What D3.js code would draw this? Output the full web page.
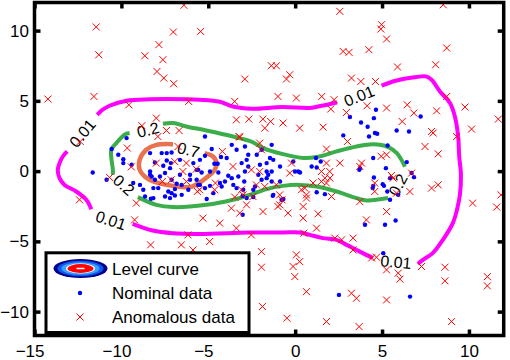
<!DOCTYPE html>
<html>
<head>
<meta charset="utf-8">
<script src="https://cdn.jsdelivr.net/npm/d3@7"></script>
<style>
body { margin: 0; background: #fff; }
svg { display: block; font-family: "Liberation Sans", Arial, sans-serif; }
</style>
</head>
<body>
<script>
//Nominal data (blue dots)
const nominalX = [-10.56,-10.18,-9.89,-9.89,-9.41,-11.65,-10.85,-9.32,-8.74,-8.64,-8.16,-8.16,-7.11,-8.35,-7.68,-7.39,-7.11,-8.07,-7.39,-7.15,
    -7.59,-7.20,-8.35,-8.26,-7.49,-7.78,-7.11,-6.63,-6.63,-6.05,-5.67,-5.86,-5.58,-6.82,-6.53,-6.92,-6.15,-7.20,-5.19,-4.80,
    -5.19,-5.48,-4.65,-4.46,-4.27,-3.94,-3.65,-3.37,-5.67,-5.38,-4.90,-4.42,-3.85,-3.65,-4.04,-3.27,-3.08,-2.79,-2.70,-2.89,
    -2.93,-2.03,-1.64,-1.45,-1.26,-1.35,-1.93,-0.87,-1.64,-1.93,-1.35,-3.56,-3.37,-4.23,-5.58,-4.90,-2.31,-2.41,-0.87,-0.11,
    -0.01,0.18,-3.02,-2.41,-0.68,-5.09,-9.70,-2.89,-2.21,-2.70,4.65,3.15,4.53,3.79,4.17,5.84,6.55,4.59,4.72,4.25,
    2.77,7.22,5.32,0.95,1.47,0.28,-2.12,-1.35,3.73,4.49,5.22,4.53,6.42,6.84,1.20,1.24,3.69,5.46,5.04,4.46,
    5.30,5.46,1.24,1.71,5.93,-1.55,-1.64,-1.26,-0.78,4.49,5.11,6.70,4.02,5.17,5.78,5.07,2.52,6.61,-8.30,-6.92,
    -3.02,-1.29,-8.35,-8.07,-8.93,-7.88,-7.30,-6.53,-7.49,-5.48,-6.05,-5.19,-4.71,-4.33,-2.99,-2.79];
const nominalY = [1.57,1.16,0.85,0.57,0.45,-0.10,-0.62,-0.85,-1.33,-1.81,-1.92,-1.21,-1.57,1.28,1.28,1.28,1.32,0.61,0.75,0.57,
    0.38,0.21,-0.03,-0.38,-0.14,-0.38,-0.62,0.80,-0.26,-0.26,-0.62,0.57,0.09,-0.90,-0.98,-1.28,-1.33,-1.92,2.46,1.57,
    1.09,0.80,0.52,0.52,1.00,0.93,1.87,1.52,0.09,-0.10,-0.03,-0.10,-0.33,-0.50,-0.74,-0.38,0.57,0.80,0.33,-0.03,
    -0.74,0.45,0.57,0.93,0.80,1.87,1.52,0.33,-0.03,-0.62,-0.74,-0.98,-1.21,-1.10,-0.98,-1.05,-1.10,-1.33,-0.74,0.68,
    -0.03,-0.03,-1.76,-1.85,-1.99,-1.99,2.35,1.75,1.16,1.16,4.37,3.85,3.77,3.46,3.16,2.89,2.82,2.71,2.66,2.46,
    2.54,3.89,1.82,0.33,0.68,-0.10,-0.26,-0.03,0.21,0.93,0.21,-0.46,0.64,-0.43,0.93,0.26,0.09,-0.50,-0.93,-1.21,
    -1.45,-2.04,-1.50,-1.64,-1.69,-0.26,-0.50,-1.69,-2.04,-1.05,-1.05,-0.14,-3.82,-3.82,-3.52,-5.84,-8.81,-8.93,-1.97,-1.74,
    -3.11,-1.76,-0.26,-0.62,-0.98,-1.21,-1.45,-1.69,-1.81,-0.98,-0.62,-1.21,-1.57,-0.85,-1.33,-1.92];

//Anomalous data (red crosses)
const anomalousX = [-14.23,-11.45,-11.30,-11.58,-9.57,-8.65,-7.84,-7.61,-7.95,-7.56,-6.99,-7.01,-5.44,-6.40,-6.13,-2.90,-3.48,-3.38,-2.67,-3.23,
    -8.82,-7.99,-7.90,-7.41,-9.66,-9.43,-12.37,-10.68,-6.68,-6.74,-7.99,-6.93,-6.26,-6.46,-7.64,-7.13,-5.69,-5.50,-6.26,-1.86,
    -1.41,-1.75,-0.70,0.26,-3.19,-2.04,-1.94,-4.19,-3.58,-2.52,-2.04,-0.21,-0.31,-4.59,-4.63,-5.63,-3.09,-3.00,-2.43,-1.75,
    -1.08,-0.89,0.36,-3.48,2.57,4.97,4.93,5.26,4.24,2.76,3.10,8.52,8.72,8.08,5.89,-1.37,-1.08,-0.31,-0.50,3.24,
    3.78,4.62,-0.99,0.07,1.53,2.24,2.05,2.95,4.14,5.26,6.45,6.83,8.14,8.72,9.77,11.69,10.15,7.85,7.94,6.16,
    9.29,7.47,8.23,1.61,3.01,1.80,5.26,4.95,1.80,2.57,1.51,1.99,3.82,3.72,5.54,6.70,1.71,2.00,1.51,1.80,
    1.03,0.55,0.65,0.65,2.09,3.72,4.58,4.58,5.83,5.64,-2.23,-0.99,-1.85,-0.41,0.46,0.46,1.32,4.10,5.26,6.60,
    7.85,8.23,11.85,10.21,11.60,1.23,2.28,2.67,3.33,3.33,4.68,-1.94,0.07,0.26,-1.94,-0.12,-0.02,0.65,3.24,3.53,
    5.26,5.93,6.03,5.26,8.62,8.62,11.06,11.06,7.27,-1.88,-0.47,1.80,3.68,9.00,-2.52,-12.41,-9.14,-9.24,-5.31,-4.34,
    -3.38,-6.17,-4.92,-6.55,-5.88,-8.32,-3.67,-3.19,-2.80,-0.89,-0.76,0.50,4.40];
const anomalousY = [5.13,10.26,8.28,5.31,4.72,8.21,9.00,7.93,7.09,6.62,6.22,9.90,9.94,11.80,4.96,6.55,4.96,3.65,3.70,2.46,
    3.23,3.77,2.46,2.89,1.64,0.30,2.11,-0.45,2.89,1.75,0.57,0.68,0.57,-0.03,-0.74,-0.62,0.14,-1.33,-0.74,3.70,
    3.53,3.06,3.42,3.06,2.42,1.99,1.52,1.40,0.33,0.09,-0.03,0.57,-0.14,-0.85,-1.33,-1.45,-1.33,-1.69,-1.81,-1.10,
    -0.98,-1.69,-1.33,-1.85,11.37,10.42,10.11,9.40,8.64,8.52,8.45,11.84,8.76,7.57,7.41,7.50,7.50,6.86,6.55,6.62,
    6.38,6.38,5.31,5.20,5.31,5.08,4.42,4.17,4.65,4.49,4.72,4.13,4.29,5.31,4.56,3.70,2.99,2.82,2.71,3.53,
    2.46,1.75,1.23,3.13,2.11,1.57,1.16,1.05,0.57,0.57,-0.03,-0.03,0.57,0.33,-0.31,-0.14,-0.50,-0.50,-0.74,-0.85,
    -0.85,-1.21,-1.69,-1.92,-1.81,-2.17,-0.85,-1.45,-1.57,-0.50,-0.98,-2.52,-2.88,-2.99,-2.52,-3.35,-3.04,-3.47,-2.88,-1.45,
    -1.21,-0.98,-1.69,-2.28,-2.56,-4.06,-4.77,-4.89,-4.77,-5.61,-6.13,-5.73,-5.96,-6.44,-6.84,-6.79,-7.51,-8.58,-8.69,-9.05,
    -7.03,-7.26,-7.69,-9.17,-6.84,-7.81,-7.51,-8.17,-6.79,-9.64,-10.47,-10.71,-11.07,-10.71,-4.54,-2.04,-2.28,-3.47,-3.35,-3.70,
    -4.06,-4.54,-5.01,-5.25,-5.61,-5.25,-2.64,-2.99,-2.40,-2.40,-2.04,-4.42,-6.18];

//Level curve 0.01 (pieces between labels)
const level001 = [
    [[-11.39,4.01],[-11.08,4.37],[-10.68,4.65],[-9.70,5.01],[-8.38,5.11],[-7.40,5.13],[-5.50,5.08],[-4.34,4.94],[-3.59,4.60],[-2.50,4.44],[-0.71,4.56],[0.84,4.49],[1.53,4.65],[2.41,4.89]],
    [[4.97,6.08],[5.84,6.45],[6.99,6.70],[7.52,6.74],[7.85,6.50],[8.33,5.67],[8.91,4.84],[9.19,3.89],[9.38,2.46],[9.44,1.04],[9.54,-0.26],[9.48,-1.69],[9.31,-2.76],[9.08,-3.68],[8.50,-4.89],[7.93,-5.82],[7.35,-6.32],[7.06,-6.62]],
    [[4.47,-6.18],[3.72,-5.73],[2.96,-5.25],[2.38,-4.89],[1.59,-4.77],[0.84,-4.54],[0.26,-4.37],[-0.71,-4.37],[-2.61,-4.37],[-5.50,-4.47],[-7.05,-4.42],[-8.20,-4.23],[-9.35,-3.75]],
    [[-11.73,-2.71],[-12.02,-2.04],[-12.60,-1.45],[-13.27,-0.98],[-13.56,-0.50],[-13.66,0.09],[-13.56,0.57],[-13.37,1.04],[-13.12,1.40]]
];

//Level curve 0.2
const level02 = [
    [[-7.61,3.37],[-7.03,3.42],[-6.26,3.18],[-5.11,2.89],[-3.58,2.46],[-2.50,2.09],[-1.85,1.64],[-0.70,1.21],[0.46,0.93],[1.23,1.00],[2.38,1.40],[3.53,1.75],[4.49,1.91],[5.33,1.73],[5.85,1.28],[6.22,0.57],[6.31,0.31]],
    [[5.35,-1.92],[4.11,-2.09],[3.53,-1.92],[2.38,-1.45],[1.23,-1.10],[0.26,-0.98],[-0.70,-1.05],[-1.65,-1.28],[-2.61,-1.69],[-3.58,-2.04],[-5.11,-2.40],[-7.03,-2.56],[-7.99,-2.40],[-9.05,-1.85]],
    [[-10.49,-0.26],[-10.49,0.09],[-10.58,1.52],[-10.29,1.99],[-9.82,2.59],[-9.53,2.71]]
];

//Level curve 0.7
const level07 = [
    [[-7.03,1.92],[-7.99,1.87],[-8.57,1.52],[-8.95,0.80],[-8.95,0.09],[-8.66,-0.38],[-7.99,-0.81],[-7.03,-1.05],[-6.07,-1.14],[-5.67,-0.94],[-5.02,-0.38],[-4.63,0.09],[-4.53,0.57],[-4.73,1.04],[-5.21,1.28]]
];

//Contour labels
const labelText = ['0.01', '0.01', '0.01', '0.01', '0.2', '0.2', '0.2', '0.7'];
const labelX = [-12.25, 3.68, -10.6, 5.80, -8.47, -9.85, 5.91, -6.14];
const labelY = [2.70, 5.36, -3.5, -6.46, 2.94, -0.98, -0.98, 1.52];
const labelAngle = [-50, -22, 18, 5, -14, 42, -62, 14];

//Ticks
const xTicks = [-15, -10, -5, 0, 5, 10];
const yTicks = [-10, -5, 0, 5, 10];

const width = 510;
const height = 360;

const svg = d3.select("body").append("svg")
    .attr("width", width)
    .attr("height", height);

//Scales
let x = d3.scaleLinear().domain([-15, 12]).range([34.5, 503.7]);
let y = d3.scaleLinear().domain([-11.7, 12]).range([335.5, 2.5]);

svg.append('clipPath').attr('id', 'plotClip')
    .append('rect')
    .attr('x', x(-15)).attr('y', y(12))
    .attr('width', x(12) - x(-15)).attr('height', y(-11.7) - y(12));

const plot = svg.append('g').attr('clip-path', 'url(#plotClip)');

//Contours
const line = d3.line()
    .x(d => x(d[0]))
    .y(d => y(d[1]))
    .curve(d3.curveCatmullRom.alpha(0.5));

const drawLevel = function(pieces, colour, w) {
    plot.selectAll(null)
        .data(pieces)
        .enter()
        .append('path')
        .attr('d', line)
        .attr('fill', 'none')
        .attr('stroke', colour)
        .attr('stroke-width', w);
};
drawLevel(level001, '#ff00ff', 4);
drawLevel(level02, '#3bae4b', 4);
drawLevel(level07, '#e8714f', 4.5);

plot.selectAll('text.clabel')
    .data(labelText)
    .enter()
    .append('text')
    .attr('class', 'clabel')
    .attr('transform', (d, i) => `translate(${x(labelX[i])},${y(labelY[i])}) rotate(${labelAngle[i]})`)
    .attr('text-anchor', 'middle')
    .attr('dy', '0.36em')
    .style('font-size', '16px')
    .text(d => d);

//Nominal points
plot.selectAll('circle.nominal')
    .data(nominalX)
    .enter()
    .append('circle')
    .attr('class', 'nominal')
    .attr('cx', d => x(d))
    .attr('cy', (d, i) => y(nominalY[i]))
    .attr('r', 2.2)
    .attr('fill', '#0000ff');

//Anomalous points
const cross = function(sel, s) {
    sel.append('path')
        .attr('d', `M${-s},${-s}L${s},${s}M${-s},${s}L${s},${-s}`)
        .attr('stroke', '#ff0000')
        .attr('stroke-width', 1)
        .attr('fill', 'none');
};
plot.selectAll('g.anomalous')
    .data(anomalousX)
    .enter()
    .append('g')
    .attr('class', 'anomalous')
    .attr('transform', (d, i) => `translate(${x(d)},${y(anomalousY[i])})`)
    .call(cross, 3.5);

//Axes box and ticks
const styleAxis = function(g) {
    g.select('.domain').remove();
    g.selectAll('.tick line').attr('stroke', '#000').attr('stroke-width', 3.5);
    g.selectAll('.tick text').attr('fill', '#000').style('font-size', '17px')
        .style('font-family', '"Liberation Sans", Arial, sans-serif');
};

svg.append('g')
    .attr('transform', `translate(0,${y(-11.7)})`)
    .call(d3.axisBottom(x).tickValues(xTicks).tickSize(-6).tickPadding(9))
    .call(styleAxis)
    .selectAll('.tick text')
    .attr('dx', d => d < 0 ? '-0.29em' : 0);

svg.append('g')
    .attr('transform', `translate(0,${y(12)})`)
    .call(d3.axisTop(x).tickValues(xTicks).tickSize(-6).tickFormat(''))
    .call(styleAxis);

svg.append('g')
    .attr('transform', `translate(${x(-15)},0)`)
    .call(d3.axisLeft(y).tickValues(yTicks).tickSize(-6).tickPadding(5.5))
    .call(styleAxis);

svg.append('g')
    .attr('transform', `translate(${x(12)},0)`)
    .call(d3.axisRight(y).tickValues(yTicks).tickSize(-6).tickFormat(''))
    .call(styleAxis);

svg.append('rect')
    .attr('x', x(-15)).attr('y', y(12))
    .attr('width', x(12) - x(-15)).attr('height', y(-11.7) - y(12))
    .attr('fill', 'none')
    .attr('stroke', '#000')
    .attr('stroke-width', 3.5);

//Legend
const legend = svg.append('g').attr('class', 'legend');

legend.append('rect')
    .attr('x', 46).attr('y', 252.8)
    .attr('width', 203).attr('height', 79.7)
    .attr('fill', '#fff')
    .attr('stroke', '#000')
    .attr('stroke-width', 3);

const icon = [
    {rx: 27, ry: 9.5, c: '#00008c'},
    {rx: 23, ry: 7.8, c: '#0a5af0'},
    {rx: 19, ry: 6.3, c: '#3ca0ff'},
    {rx: 14.5, ry: 5, c: '#ffffff'},
    {rx: 13, ry: 4.4, c: '#ff0000'}
];
legend.selectAll('ellipse')
    .data(icon)
    .enter()
    .append('ellipse')
    .attr('cx', 80.5).attr('cy', 268.5)
    .attr('rx', d => d.rx).attr('ry', d => d.ry)
    .attr('fill', d => d.c);
legend.append('line')
    .attr('x1', 76.5).attr('x2', 84.5)
    .attr('y1', 268.5).attr('y2', 268.5)
    .attr('stroke', '#fff').attr('stroke-width', 1.5);

legend.append('circle')
    .attr('cx', 80).attr('cy', 293)
    .attr('r', 2.2)
    .attr('fill', '#0000ff');

legend.append('g')
    .attr('transform', 'translate(80,317)')
    .call(cross, 3.5);

legend.selectAll('text')
    .data(['Level curve', 'Nominal data', 'Anomalous data'])
    .enter()
    .append('text')
    .attr('x', 112)
    .attr('y', (d, i) => 275 + i * 24)
    .style('font-size', '17px')
    .text(d => d);
</script>
</body>
</html>
